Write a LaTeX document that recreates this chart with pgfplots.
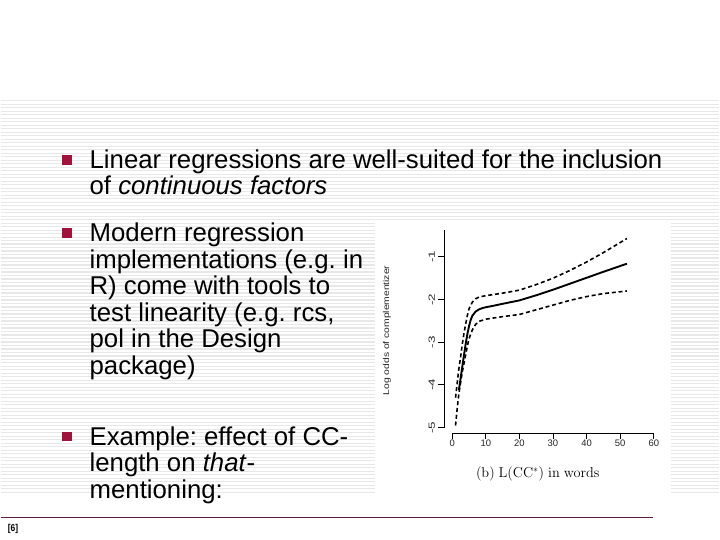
\documentclass[border=0pt]{standalone}
\usepackage[no-math]{fontspec}
\setmainfont{Liberation Sans}
\usepackage{pgfplots}
\pgfplotsset{compat=1.18}
\usepackage{graphicx}

\definecolor{bulletred}{RGB}{160,20,60}
\definecolor{footline}{RGB}{95,30,70}
\definecolor{stripe}{RGB}{232,232,232}

% rcs fit of complementizer use against length
\pgfplotstableread{
x     y
2.0  -4.12
2.5  -3.85
3.0  -3.58
3.5  -3.31
4.0  -3.05
4.5  -2.82
5.0  -2.63
5.5  -2.48
6.0  -2.38
7.0  -2.28
8.0  -2.23
9.0  -2.20
10   -2.18
12   -2.15
15   -2.10
20   -2.02
25   -1.90
30   -1.77
35   -1.63
40   -1.49
45   -1.35
52   -1.16
}\fitdata
\pgfplotstableread{
x     y
1.0  -4.30
1.5  -3.95
2.0  -3.62
2.5  -3.35
3.0  -3.05
3.5  -2.80
4.0  -2.58
4.5  -2.38
5.0  -2.22
6.0  -2.06
7.0  -1.98
8.0  -1.94
10   -1.91
15   -1.85
20   -1.78
25   -1.65
30   -1.50
35   -1.32
40   -1.12
45   -0.90
52   -0.57
}\upperdata
\pgfplotstableread{
x     y
1.0  -4.95
1.5  -4.55
2.0  -4.20
2.5  -3.95
3.0  -3.70
3.5  -3.50
4.0  -3.30
4.5  -3.10
5.0  -2.92
6.0  -2.71
7.0  -2.58
8.0  -2.51
10   -2.46
15   -2.40
20   -2.35
25   -2.24
30   -2.13
35   -2.02
40   -1.93
45   -1.86
52   -1.80
}\lowerdata

\newcommand\yt[1]{\scalebox{1.5}[1]{#1}}

\begin{document}
\frenchspacing
\begin{tikzpicture}
\fill[white] (0,0) rectangle (720bp,-540bp);
\begin{scope}[x=1bp,y=-1bp]
  % striped slide background
  \foreach \k in {0,...,112}
    \draw[stripe, line width=1.2bp] (0,{101+3.5*\k}) -- (720,{101+3.5*\k});
  % white box behind the figure
  \fill[white] (375,222) rectangle (672,494);
  % footer
  \draw[footline, line width=1bp] (0,518) -- (653,518);
  \node[anchor=west, inner sep=0, font=\fontsize{10}{12}\selectfont\bfseries]
    at (7,530) {\scalebox{0.85}[1]{[6]}};
  % bullets
  \foreach \b in {169,242,446}
    \fill[bulletred] (62,{\b-13.5}) rectangle (71.5,{\b-4});
  \tikzset{line/.style={anchor=base west, inner sep=0, font=\fontsize{25.9}{27}\selectfont}}
  \node[line] at (89,169) {Linear regressions are well-suited for the inclusion};
  \node[line] at (89,195) {of \textit{continuous factors}};
  \node[line] at (89,242) {Modern regression};
  \node[line] at (89,269) {implementations (e.g. in};
  \node[line] at (89,295) {R) come with tools to};
  \node[line] at (89,322) {test linearity (e.g. rcs,};
  \node[line] at (89,348) {pol in the Design};
  \node[line] at (89,375) {package)};
  \node[line] at (89,446) {Example: effect of CC-};
  \node[line] at (89,472) {length on \textit{that}-};
  \node[line] at (89,499) {mentioning:};
  % figure labels
  \node[rotate=90, inner sep=0, text=black!85, font=\fontsize{8.5}{10}\selectfont]
    at (387,331) {\scalebox{1.22}[1]{Log odds of complementizer}};
  \node[inner sep=0, font=\fontsize{14.5}{16}\selectfont]
    at (538,475) {\(\mathrm{(b)\ L(CC^{*})\ in\ words}\)};
\end{scope}

\begin{axis}[
  at={(444.3bp,-433.9bp)}, anchor=south west,
  width=210bp, height=204bp, scale only axis,
  xmin=-2.38, xmax=60, ymin=-5.13, ymax=-0.36,
  axis x line*=bottom, axis y line*=left,
  axis line style={draw=none},
  clip=false,
  tick align=outside,
  major tick length=6bp,
  tick style={black, line width=0.9bp},
  xtick={0,10,...,60},
  xticklabels={0,10,20,30,40,50,60},
  ytick={-5,-4,-3,-2,-1},
  yticklabels={\yt{-5},\yt{-4},\yt{-3},\yt{-2},\yt{-1}},
  xticklabel style={font=\fontsize{9.5}{10}\selectfont, text=black!85, inner sep=1bp},
  yticklabel style={font=\fontsize{9}{10}\selectfont, text=black!85, rotate=90,
    anchor=south, inner sep=3bp},
]
\draw[black, line width=0.9bp] (axis cs:0,-5.13) -- (axis cs:60,-5.13);
\draw[black, line width=0.9bp] (axis cs:-2.38,-5) -- (axis cs:-2.38,-0.36);
\addplot[black, line width=1.9bp, no marks] table[x=x, y=y] {\fitdata};
\addplot[black, line width=1.6bp, no marks, dash pattern=on 4bp off 2.8bp]
  table[x=x, y=y] {\upperdata};
\addplot[black, line width=1.6bp, no marks, dash pattern=on 4bp off 2.8bp]
  table[x=x, y=y] {\lowerdata};
\end{axis}
\end{tikzpicture}
\end{document}
